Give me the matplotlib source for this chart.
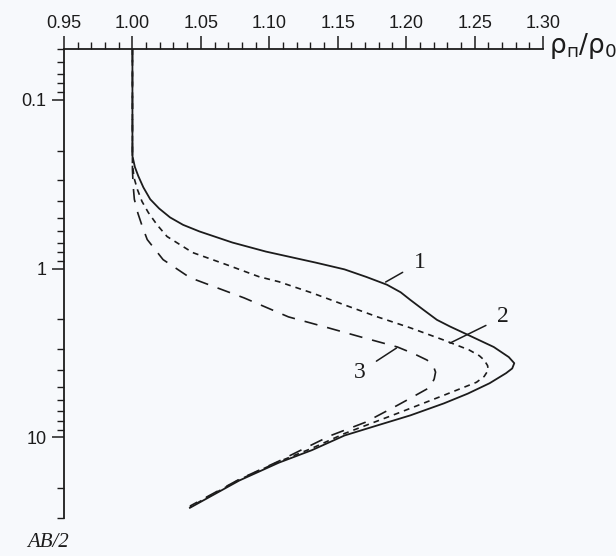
import numpy as np
import matplotlib
matplotlib.use("Agg")
import matplotlib.pyplot as plt
from matplotlib.ticker import FixedLocator, MultipleLocator, LogLocator, NullFormatter, FuncFormatter

plt.rcParams["mathtext.default"] = "regular"

# curve 1 (solid), rho_n/rho_0 vs AB/2
ab_1 = [0.05, 0.15, 0.215, 0.25, 0.283, 0.33, 0.388, 0.44, 0.497, 0.55, 0.602, 0.70, 0.792, 0.921,
        1.01, 1.12, 1.245, 1.38, 1.53, 1.75, 2.01, 2.20, 2.40, 2.91, 3.34, 3.63, 3.90, 4.16, 4.77,
        5.5, 6.28, 7.40, 8.48, 9.73, 11.9, 14.1, 18.0, 26.1]
rho_1 = [1.000, 1.000, 1.000, 1.0018, 1.0043, 1.008, 1.013, 1.0195, 1.0275, 1.037, 1.049, 1.073,
         1.0975, 1.134, 1.155, 1.171, 1.186, 1.196, 1.203, 1.2125, 1.2225, 1.232, 1.242, 1.264,
         1.275, 1.279, 1.2775, 1.273, 1.261, 1.245, 1.2276, 1.203, 1.179, 1.155, 1.131, 1.107,
         1.078, 1.042]

# curve 2 (short dash)
ab_2 = [0.05, 0.24, 0.29, 0.339, 0.40, 0.465, 0.55, 0.645, 0.803, 0.946, 1.116, 1.195, 1.39,
        1.64, 1.93, 2.24, 2.65, 3.03, 3.28, 3.48, 3.75, 3.99, 4.35, 4.71, 5.62, 7.20, 9.47, 11.6,
        13.9, 17.8, 25.8]
rho_2 = [1.000, 1.000, 1.0012, 1.0036, 1.007, 1.0116, 1.018, 1.0253, 1.044, 1.0686, 1.0925,
         1.107, 1.131, 1.155, 1.179, 1.203, 1.2276, 1.246, 1.2535, 1.257, 1.2595, 1.260, 1.257,
         1.2514, 1.2276, 1.1936, 1.155, 1.131, 1.107, 1.078, 1.042]

# curve 3 (long dash)
ab_3 = [0.05, 0.258, 0.32, 0.388, 0.47, 0.562, 0.672, 0.884, 1.13, 1.49, 1.93, 2.24, 2.54, 2.91,
        3.20, 3.48, 3.80, 4.10, 4.50, 5.04, 5.86, 6.45, 8.14, 9.73, 11.9, 13.8, 17.7, 25.5]
rho_3 = [1.000, 1.000, 1.0005, 1.0014, 1.004, 1.0072, 1.0108, 1.0224, 1.042, 1.0816, 1.114,
         1.143, 1.167, 1.1936, 1.206, 1.2153, 1.2200, 1.2215, 1.2205, 1.2175, 1.203, 1.1936,
         1.170, 1.145, 1.123, 1.107, 1.078, 1.042]

x_major = [0.95, 1.00, 1.05, 1.10, 1.15, 1.20, 1.25, 1.30]
y_major = [0.1, 1, 10]
y_labels = ["0.1", "1", "10"]

# curve labels: (text, label pos, leader end on curve)
curve_labels = [("1", (1.210, 0.92), (1.185, 1.20)),
                ("2", (1.271, 1.93), (1.232, 2.76)),
                ("3", (1.166, 4.10), (1.193, 2.95))]

ink = "#1c1c1c"
bg = "#f7f9fc"

fig = plt.figure(figsize=(6.16, 5.56), dpi=100, facecolor=bg)
ax = fig.add_axes([0.1039, 0.0683, 0.7776, 0.8435])
ax.set_facecolor(bg)

ax.plot(rho_1, ab_1, color=ink, lw=1.3, ls="-")
ax.plot(rho_2, ab_2, color=ink, lw=1.2, ls=(0, (3.5, 3)))
ax.plot(rho_3, ab_3, color=ink, lw=1.2, ls=(0, (8, 6)))

ax.set_yscale("log")
ax.set_xlim(0.95, 1.30)
ax.set_ylim(30, 0.05)

ax.xaxis.set_ticks_position("top")
ax.xaxis.set_major_locator(FixedLocator(x_major))
ax.xaxis.set_minor_locator(MultipleLocator(0.01))
ax.xaxis.set_major_formatter(FuncFormatter(lambda v, p: f"{v:.2f}"))
ax.yaxis.set_major_locator(FixedLocator(y_major))
ax.yaxis.set_major_formatter(FuncFormatter(lambda v, p: y_labels[y_major.index(min(y_major, key=lambda t: abs(t - v)))]))
ax.yaxis.set_minor_locator(LogLocator(base=10, subs=np.arange(2, 10)))
ax.yaxis.set_minor_formatter(NullFormatter())

ax.tick_params(axis="x", which="major", direction="out", length=9.5, width=1.1, pad=2.5,
               labelsize=13, colors=ink)
ax.tick_params(axis="x", which="minor", direction="out", length=5, width=1.0, colors=ink)
ax.tick_params(axis="y", which="major", direction="out", length=8.5, width=1.1, pad=4,
               labelsize=13, colors=ink)
ax.tick_params(axis="y", which="minor", direction="out", length=5, width=1.0, colors=ink)
for lab in ax.get_xticklabels() + ax.get_yticklabels():
    lab.set_family("Liberation Sans")

for s in ["right", "bottom"]:
    ax.spines[s].set_visible(False)
for s in ["top", "left"]:
    ax.spines[s].set_linewidth(1.3)
    ax.spines[s].set_color(ink)

for txt, pos, tip in curve_labels:
    ax.annotate(txt, xy=tip, xytext=pos, fontsize=17, family="Liberation Serif", color=ink,
                ha="center", va="center",
                arrowprops=dict(arrowstyle="-", color=ink, lw=1.1, shrinkA=7, shrinkB=0))

fig.text(549 / 616, 1 - 46 / 556, r"$\rho_{п}/\rho_0$", fontsize=19, color=ink,
         ha="left", va="center")
fig.text(27 / 616, 9 / 556, "AB/2", fontsize=15, family="Liberation Serif", style="italic",
         color=ink, ha="left", va="baseline")

fig.savefig("out.png", dpi=100, facecolor=bg)
